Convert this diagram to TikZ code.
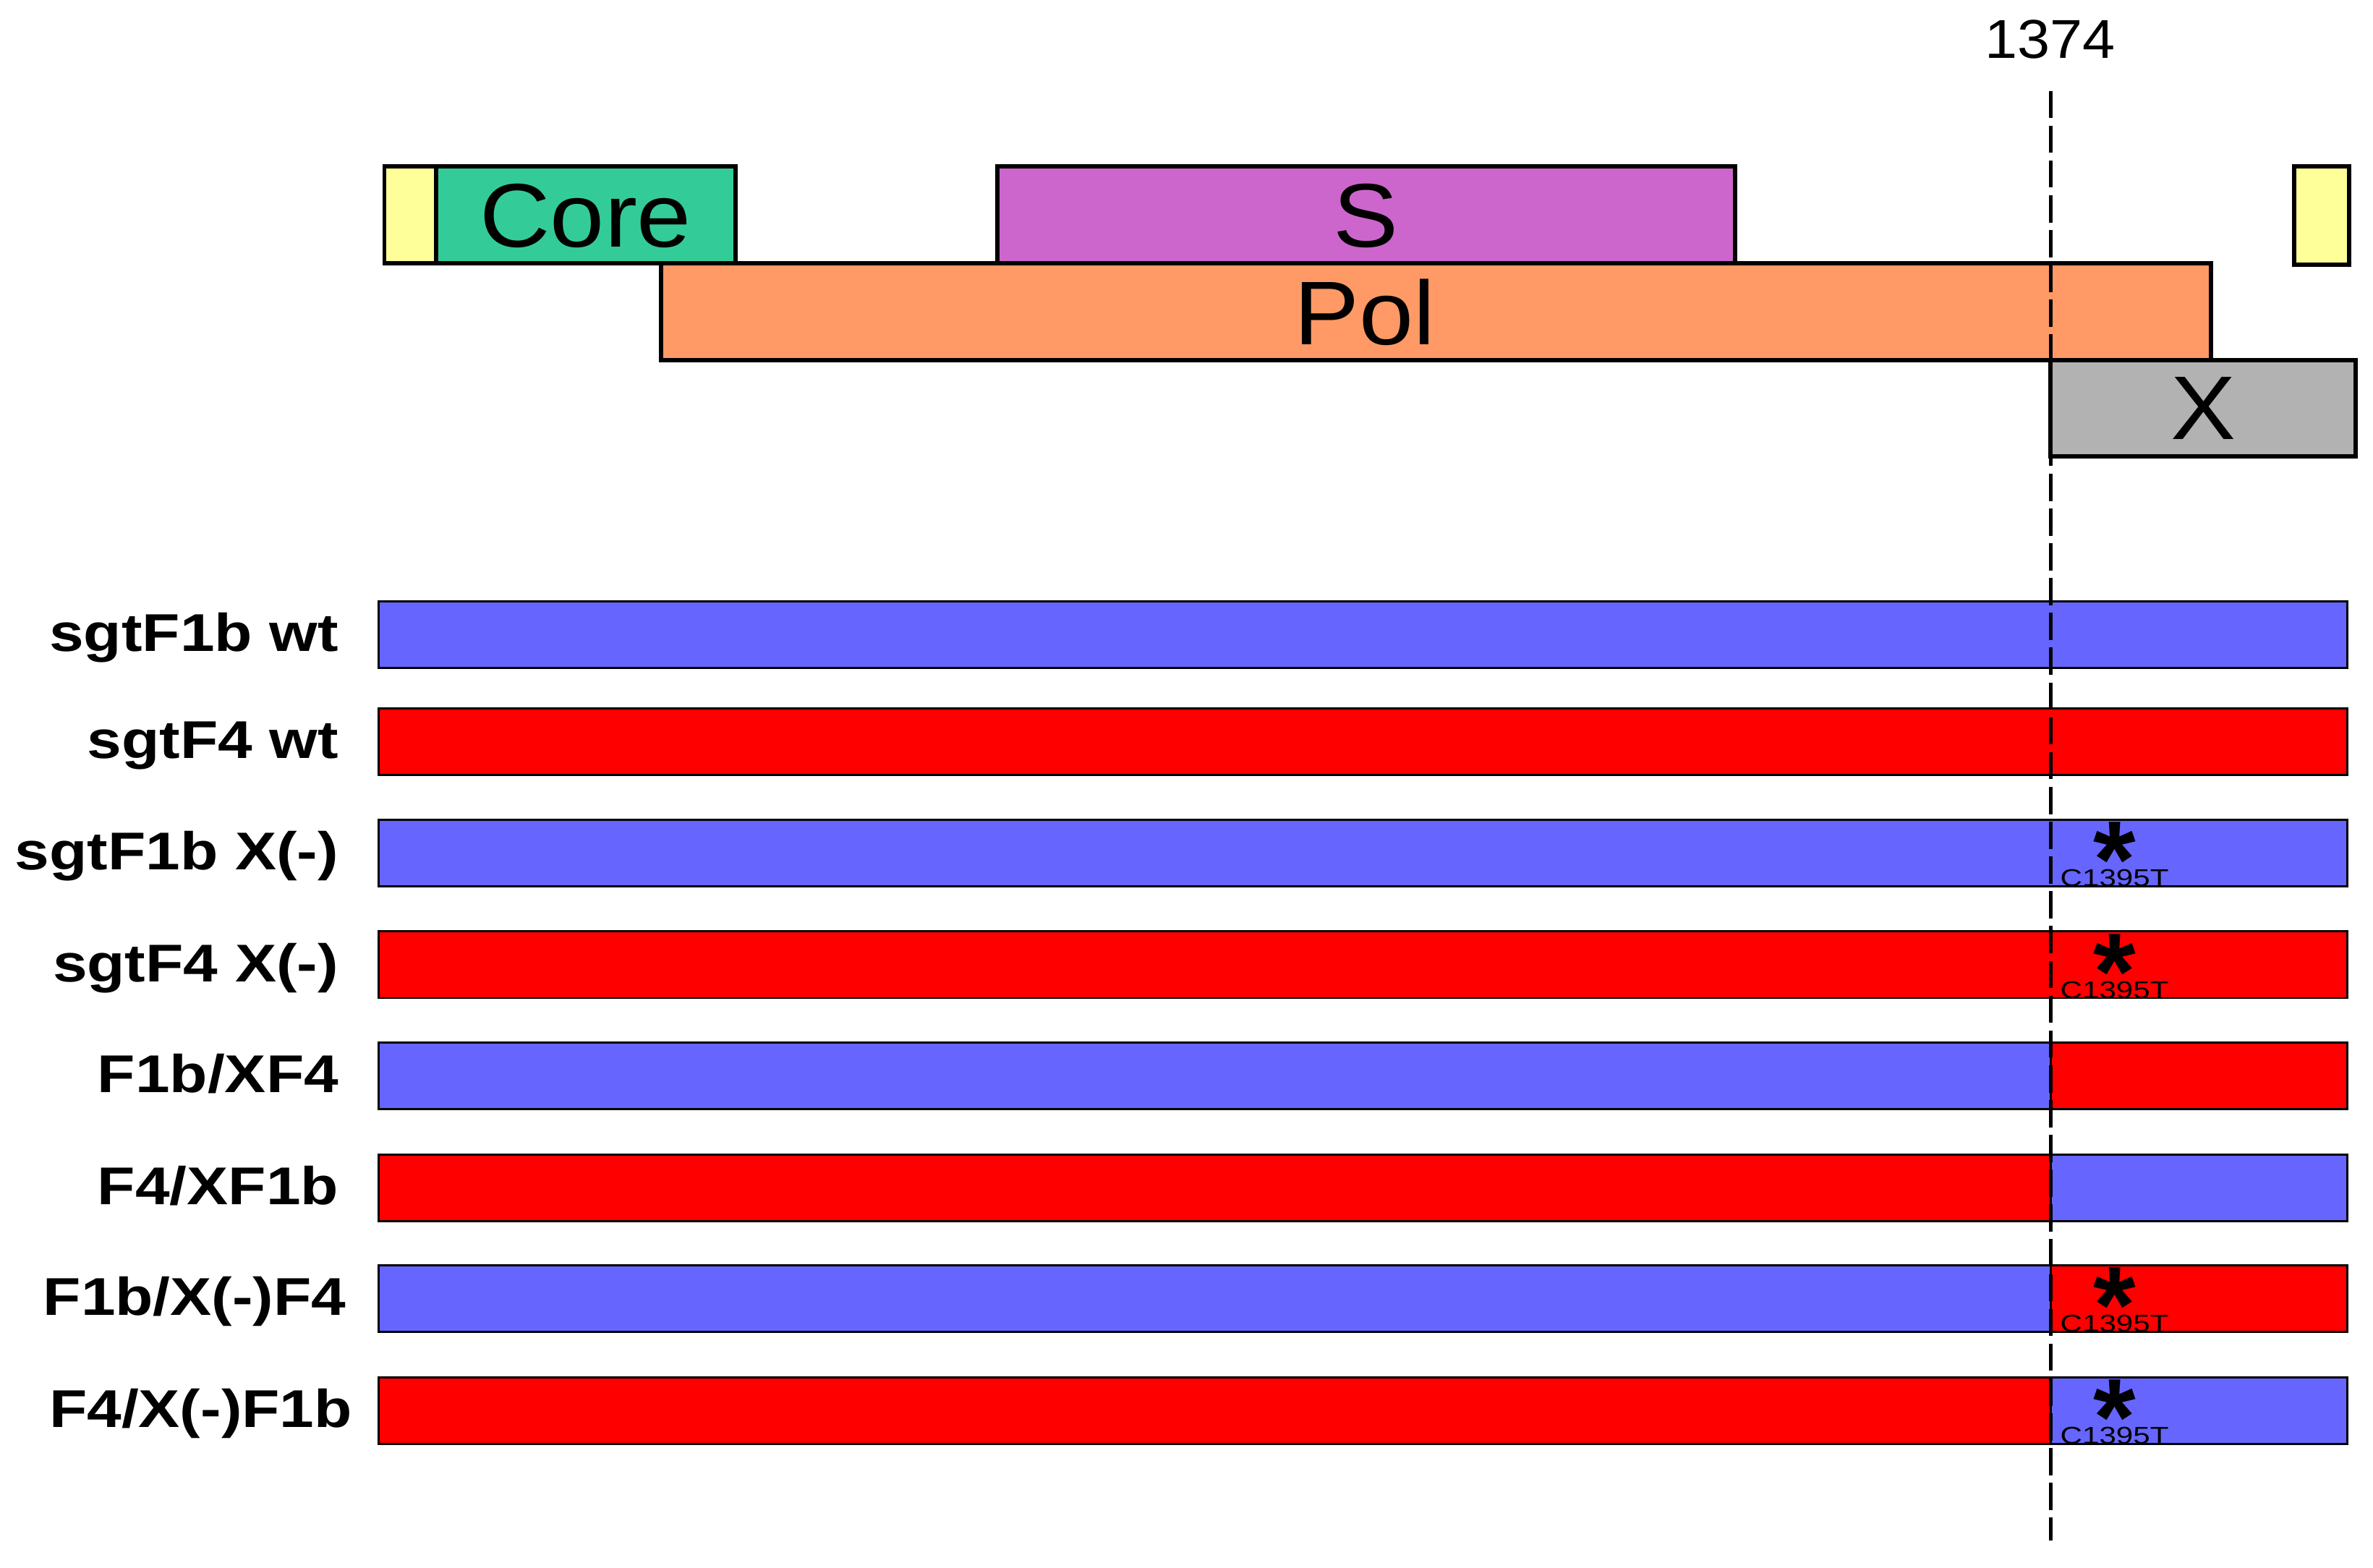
\documentclass[tikz,border=0pt]{standalone}
\usepackage{fontspec}
\setmainfont{Liberation Sans}
\usepackage{graphicx}
\definecolor{utr}{HTML}{FFFF99}
\definecolor{coreg}{HTML}{33CC99}
\definecolor{sg}{HTML}{CC66CC}
\definecolor{polg}{HTML}{FF9966}
\definecolor{xg}{HTML}{B2B2B2}
\definecolor{gtb}{HTML}{6666FF}
\definecolor{gtf}{HTML}{FF0000}
\newcommand\hs[2]{\scalebox{#1}[1]{#2}}
\begin{document}
\begin{tikzpicture}[x=0.02cm,y=-0.02cm,
  topbox/.style={draw=black,line width=1.6pt},
  barbox/.style={draw=black,line width=0.8pt},
  genetxt/.style={inner sep=0pt,font=\fontsize{34}{34}\selectfont},
  rowlab/.style={anchor=base east,inner sep=0pt,font=\fontsize{20}{20}\selectfont\bfseries},
  startxt/.style={anchor=north,inner sep=0pt,font=\fontsize{41}{41}\selectfont\bfseries},
  muttxt/.style={anchor=base west,inner sep=0pt,font=\fontsize{9.1}{9.1}\selectfont},
  cut/.style={line width=1.2pt,dash pattern=on 0.36cm off 0.1cm}]
\useasboundingbox (0,0) rectangle (1568,1036);

% genome map
\path[topbox,fill=utr] (254,110) rectangle (288,174);
\path[topbox,fill=coreg] (288,110) rectangle (486,174);
\path[topbox,fill=sg] (659,110) rectangle (1146.5,174);
\path[topbox,fill=utr] (1516,110) rectangle (1552,175);
\path[topbox,fill=polg] (437,174) rectangle (1461,238);
\path[topbox,fill=xg] (1355,238) rectangle (1556.5,301.5);
\node[genetxt] (core) at (387,142.5) {\hs{1.08}{Core}};
\node[genetxt] (s) at (902.5,142.5) {\hs{1.08}{S}};
\node[genetxt] (pol) at (902,206.5) {\hs{1.08}{Pol}};
\node[genetxt] (x) at (1456,270) {\hs{1.08}{X}};

% constructs
\path[barbox,fill=gtb] (250,397.5) rectangle (1551,441.5);
\path[barbox,fill=gtf] (250,468) rectangle (1551,512);
\path[barbox,fill=gtb] (250,541.5) rectangle (1551,585.5);
\path[barbox,fill=gtf] (250,615.5) rectangle (1551,659.5);
\path[barbox,fill=gtb] (250,689) rectangle (1355,733);
\path[barbox,fill=gtf] (1355,689) rectangle (1551,733);
\path[barbox,fill=gtf] (250,763) rectangle (1355,807);
\path[barbox,fill=gtb] (1355,763) rectangle (1551,807);
\path[barbox,fill=gtb] (250,836) rectangle (1355,880);
\path[barbox,fill=gtf] (1355,836) rectangle (1551,880);
\path[barbox,fill=gtf] (250,910) rectangle (1355,954);
\path[barbox,fill=gtb] (1355,910) rectangle (1551,954);

\node[rowlab] (l1) at (224,430.5) {\hs{1.165}{sgtF1b wt}};
\node[rowlab] (l2) at (224,501) {\hs{1.165}{sgtF4 wt}};
\node[rowlab] (l3) at (224,574.5) {\hs{1.165}{sgtF1b X(-)}};
\node[rowlab] (l4) at (224,648.5) {\hs{1.165}{sgtF4 X(-)}};
\node[rowlab] (l5) at (224,722) {\hs{1.165}{F1b/XF4}};
\node[rowlab] (l6) at (224,796) {\hs{1.165}{F4/XF1b}};
\node[rowlab] (l7) at (229,869) {\hs{1.165}{F1b/X(-)F4}};
\node[rowlab] (l8) at (233,943) {\hs{1.165}{F4/X(-)F1b}};

% mutations
\foreach \t/\n in {541.5/a,615.5/b,836/c,910/d}{
  \node[startxt] (star\n) at (1397.5,\t+1.5) {*};
  \node[muttxt] (mut\n) at (1361,\t+44) {\hs{1.26}{C1395T}};
}

% position 1374
\node[anchor=base,inner sep=0pt,font=\fontsize{20.6}{20.6}\selectfont] (pos) at (1354.5,38.3) {\hs{1.07}{1374}};
\coordinate (cuttop) at (1355,60);
\coordinate (cutbot) at (1355,1018);
\draw[cut] (cuttop) -- (cutbot);
\end{tikzpicture}
\end{document}
